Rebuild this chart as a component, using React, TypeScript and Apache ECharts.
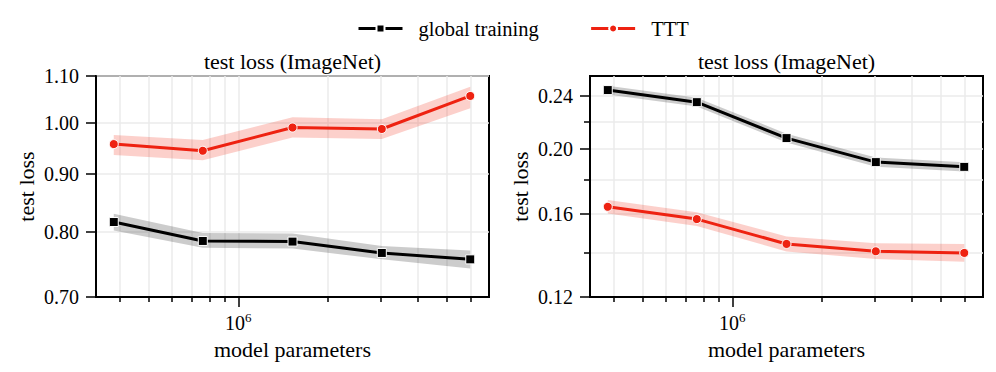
import React, { useEffect, useRef } from 'react';
import * as echarts from 'echarts';

// ---- data ----
const PARAMS = [3.82e5, 7.6e5, 1.52e6, 3.03e6, 6.0e6];

const LEFT_GLOBAL = [0.816, 0.785, 0.784, 0.766, 0.756];
const LEFT_GLOBAL_LO = [0.802, 0.774, 0.773, 0.756, 0.742];
const LEFT_GLOBAL_HI = [0.830, 0.798, 0.797, 0.777, 0.770];
const LEFT_TTT = [0.957, 0.944, 0.990, 0.987, 1.056];
const LEFT_TTT_LO = [0.936, 0.926, 0.970, 0.967, 1.030];
const LEFT_TTT_HI = [0.975, 0.965, 1.011, 1.007, 1.076];

const RIGHT_GLOBAL = [0.245, 0.235, 0.2076, 0.1911, 0.188];
const RIGHT_GLOBAL_LO = [0.2412, 0.2315, 0.2044, 0.188, 0.185];
const RIGHT_GLOBAL_HI = [0.2488, 0.2387, 0.2108, 0.1942, 0.191];
const RIGHT_TTT = [0.1638, 0.157, 0.1441, 0.1405, 0.1397];
const RIGHT_TTT_LO = [0.16, 0.1533, 0.1404, 0.1368, 0.1355];
const RIGHT_TTT_HI = [0.1677, 0.1608, 0.1479, 0.1445, 0.1441];

const X_MAJOR = [1e6];
const X_MINOR = [4e5, 5e5, 6e5, 7e5, 8e5, 9e5, 2e6, 3e6, 4e6, 5e6, 6e6];
const X_RANGE = [3.33e5, 6.935e6];

const LEFT_Y_RANGE = [0.7, 1.1];
const LEFT_Y_TICKS = [0.7, 0.8, 0.9, 1.0, 1.1];
const RIGHT_Y_RANGE = [0.12, 0.2572];
const RIGHT_Y_TICKS = [0.12, 0.16, 0.2, 0.24];
const RIGHT_Y_MINOR = [0.14, 0.18, 0.22];

const TITLE = 'test loss (ImageNet)';
const X_NAME = 'model parameters';
const Y_NAME = 'test loss';
const NAME_GLOBAL = 'global training';
const NAME_TTT = 'TTT';

// ---- styling ----
const FONT = 'Liberation Serif';
const RED = '#ee2211';
const RED_BAND = 'rgba(240,40,20,0.22)';
const GRAY_BAND = 'rgba(0,0,0,0.2)';
const GRID_COLOR = '#ebebeb';

const L = (v: number) => Math.log10(v);

function xAxes(gridIndex: number) {
  const common = {
    type: 'value',
    gridIndex,
    min: L(X_RANGE[0]),
    max: L(X_RANGE[1]),
    position: 'bottom',
  };
  return [
    {
      ...common,
      axisLine: { show: true, onZero: false, lineStyle: { color: '#000', width: 2 } },
      axisTick: { show: true, length: 10, lineStyle: { color: '#000', width: 1.5 }, customValues: X_MAJOR.map(L) },
      axisLabel: {
        show: true,
        margin: 14,
        fontFamily: FONT,
        customValues: X_MAJOR.map(L),
        formatter: (v: number) => `{b|10}{s|${Math.round(v)}}`,
        rich: {
          b: { fontSize: 20, fontFamily: FONT, color: '#000', lineHeight: 24 },
          s: { fontSize: 13, fontFamily: FONT, color: '#000', lineHeight: 14, verticalAlign: 'top' },
        },
      },
      splitLine: { show: true, lineStyle: { color: GRID_COLOR, width: 1.5 } },
      name: X_NAME,
      nameLocation: 'middle',
      nameGap: 41,
      nameMoveOverlap: false,
      nameTextStyle: { fontSize: 22, fontFamily: FONT, color: '#000' },
    },
    {
      ...common,
      axisLine: { show: false, onZero: false },
      axisTick: { show: true, length: 5, lineStyle: { color: '#000', width: 1.5 }, customValues: X_MINOR.map(L) },
      axisLabel: { show: false },
      splitLine: { show: true, lineStyle: { color: GRID_COLOR, width: 1.5 } },
    },
  ];
}

function yMain(gridIndex: number, range: number[], ticks: number[]) {
  return {
    type: 'value',
    gridIndex,
    min: L(range[0]),
    max: L(range[1]),
    position: 'left',
    axisLine: { show: true, onZero: false, lineStyle: { color: '#000', width: 2 } },
    axisTick: { show: true, length: 10, lineStyle: { color: '#000', width: 1.5 }, customValues: ticks.map(L) },
    axisLabel: {
      show: true,
      margin: 17,
      customValues: ticks.map(L),
      formatter: (v: number) => Math.pow(10, v).toFixed(2),
      fontSize: 20,
      fontFamily: FONT,
      color: '#000',
    },
    splitLine: { show: true, lineStyle: { color: GRID_COLOR, width: 1.5 } },
    name: Y_NAME,
    nameLocation: 'middle',
    nameGap: 59,
    nameMoveOverlap: false,
    nameTextStyle: { fontSize: 22, fontFamily: FONT, color: '#000' },
  };
}

function yMinor(gridIndex: number, range: number[], ticks: number[]) {
  return {
    type: 'value',
    gridIndex,
    min: L(range[0]),
    max: L(range[1]),
    position: 'left',
    axisLine: { show: false, onZero: false },
    axisTick: { show: true, length: 6, lineStyle: { color: '#000', width: 1.5 }, customValues: ticks.map(L) },
    axisLabel: { show: false },
    splitLine: { show: true, lineStyle: { color: GRID_COLOR, width: 1.5 } },
  };
}

function band(name: string, xi: number, yi: number, lo: number[], hi: number[], color: string) {
  const data = PARAMS.map((p, i) => [L(p), L(lo[i]), L(hi[i])]);
  return {
    type: 'custom',
    name,
    xAxisIndex: xi,
    yAxisIndex: yi,
    data,
    silent: true,
    z: 1,
    encode: { x: 0, y: [1, 2] },
    renderItem: (params: any, api: any) => {
      if (params.dataIndex !== 0) return null;
      const upper = data.map((d) => api.coord([d[0], d[2]]));
      const lower = data.map((d) => api.coord([d[0], d[1]])).reverse();
      return {
        type: 'polygon',
        shape: { points: [...upper, ...lower] },
        style: { fill: color, stroke: 'none' },
      };
    },
  };
}

function mainLine(name: string, xi: number, yi: number, vals: number[], color: string, symbol: string) {
  return {
    type: 'line',
    name,
    xAxisIndex: xi,
    yAxisIndex: yi,
    data: PARAMS.map((p, i) => [L(p), L(vals[i])]),
    symbol,
    symbolSize: 9,
    lineStyle: { color, width: 3 },
    itemStyle: { color, borderColor: '#fff', borderWidth: 1 },
    z: 3,
  };
}

export default function App() {
  const ref = useRef<HTMLDivElement>(null);
  useEffect(() => {
    if (!ref.current) return;
    const chart = echarts.init(ref.current, null, { renderer: 'svg' });
    const grids = [
      { left: 96, top: 76, width: 393, height: 221 },
      { left: 590, top: 76, width: 393, height: 221 },
    ].map((g) => ({
      ...g,
      show: true,
      borderColor: '#000',
      borderWidth: 2,
      backgroundColor: 'transparent',
      containLabel: false,
      outerBoundsMode: 'none',
    }));

    const option: any = {
      animation: false,
      backgroundColor: '#fff',
      textStyle: { fontFamily: FONT },
      grid: grids,
      xAxis: [...xAxes(0), ...xAxes(1)],
      yAxis: [
        yMain(0, LEFT_Y_RANGE, LEFT_Y_TICKS),
        yMain(1, RIGHT_Y_RANGE, RIGHT_Y_TICKS),
        yMinor(1, RIGHT_Y_RANGE, RIGHT_Y_MINOR),
      ],
      legend: {
        data: [NAME_GLOBAL, NAME_TTT],
        left: 357,
        top: 18,
        padding: 0,
        itemWidth: 44,
        itemHeight: 10,
        itemGap: 51,
        selectedMode: false,
        lineStyle: { width: 3 },
        textStyle: { fontSize: 20.5, fontFamily: FONT, color: '#000', padding: [0, 0, 0, 11] },
      },
      graphic: [
        {
          type: 'text',
          x: 292.5,
          y: 61,
          style: { text: TITLE, fontSize: 22, fontFamily: FONT, fill: '#000', textAlign: 'center', textVerticalAlign: 'middle' },
        },
        {
          type: 'text',
          x: 786.5,
          y: 61,
          style: { text: TITLE, fontSize: 22, fontFamily: FONT, fill: '#000', textAlign: 'center', textVerticalAlign: 'middle' },
        },
      ],
      series: [
        band('lg-band', 0, 0, LEFT_GLOBAL_LO, LEFT_GLOBAL_HI, GRAY_BAND),
        band('lt-band', 0, 0, LEFT_TTT_LO, LEFT_TTT_HI, RED_BAND),
        mainLine(NAME_GLOBAL, 0, 0, LEFT_GLOBAL, '#000', 'rect'),
        mainLine(NAME_TTT, 0, 0, LEFT_TTT, RED, 'circle'),
        band('rg-band', 2, 1, RIGHT_GLOBAL_LO, RIGHT_GLOBAL_HI, GRAY_BAND),
        band('rt-band', 2, 1, RIGHT_TTT_LO, RIGHT_TTT_HI, RED_BAND),
        mainLine(NAME_GLOBAL, 2, 1, RIGHT_GLOBAL, '#000', 'rect'),
        mainLine(NAME_TTT, 2, 1, RIGHT_TTT, RED, 'circle'),
      ],
    };
    chart.setOption(option);
    return () => chart.dispose();
  }, []);
  return <div ref={ref} style={{ position: 'fixed', left: 0, top: 0, width: 996, height: 372 }} />;
}
